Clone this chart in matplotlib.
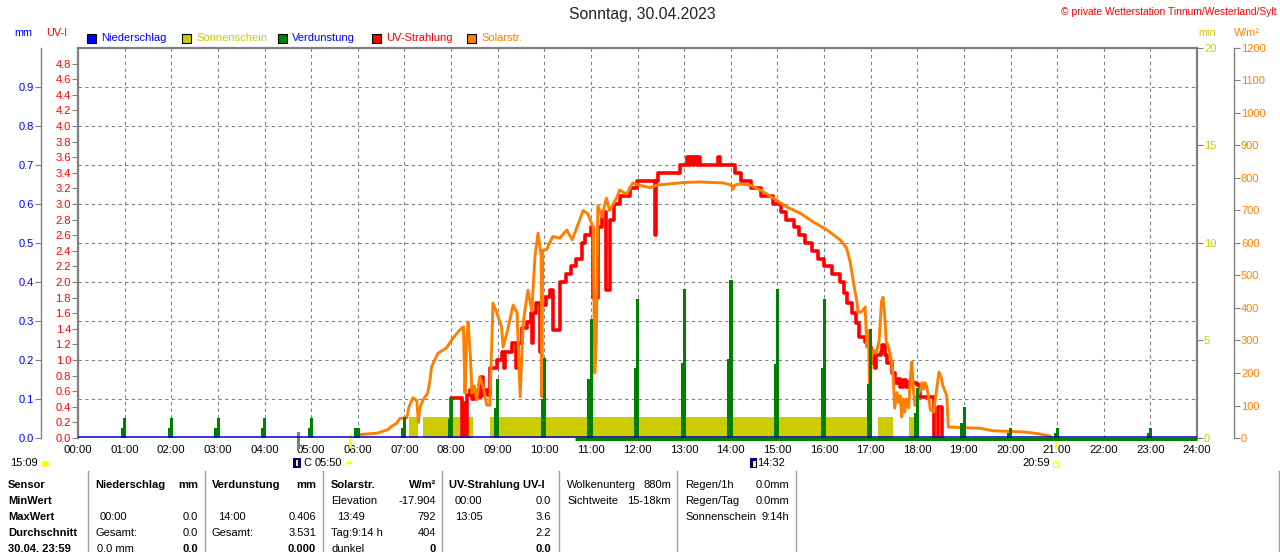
import matplotlib
matplotlib.use('Agg')
import matplotlib.pyplot as plt
from matplotlib.lines import Line2D
from matplotlib.patches import Rectangle, Circle, Ellipse

plt.rcParams['font.family'] = ['Liberation Sans', 'DejaVu Sans']

# ---------------- data ----------------
title = "Sonntag, 30.04.2023"
copyright_txt = "\u00a9 private Wetterstation Tinnum/Westerland/Sylt"

hour_labels = ["%02d:00" % h for h in range(25)]

# UV-Strahlung (UV-I), time in minutes since midnight
uv_t = [479, 480, 493, 494, 496, 497, 499, 500, 505, 507, 510, 513, 515, 517, 519, 521, 524, 527,
        530, 539, 546, 548, 550, 558, 564, 566, 572, 578, 583, 584, 586, 590, 594, 596, 602, 608,
        611, 619, 620, 628, 635, 641, 648, 652, 660, 663, 667, 669, 674, 679, 681, 684, 690, 697,
        710, 719, 742, 743, 744, 746, 775, 784, 786, 788, 791, 793, 796, 798, 800, 823, 824, 826,
        845, 853, 866, 879, 894, 905, 911, 922, 928, 936, 945, 952, 960, 970, 980, 986, 990, 996,
        1001, 1005, 1013, 1018, 1021, 1023, 1025, 1027, 1033, 1035, 1038, 1041, 1048, 1051, 1055,
        1058, 1062, 1066, 1070, 1075, 1080, 1083, 1100, 1102, 1106, 1107, 1111, 1112]
uv_v = [0.0, 0.51, 0.51, 0.0, 0.45, 0.0, 0.0, 0.55, 0.61, 0.5, 0.58, 0.52, 0.62, 0.52, 0.78, 0.55, 0.62, 0.55,
        0.9, 1.0, 1.1, 0.9, 1.1, 1.22, 0.9, 1.22, 1.41, 1.49, 1.6, 1.22, 1.6, 1.73, 1.1, 1.7, 1.81, 1.9,
        1.38, 1.38, 2.0, 2.1, 2.2, 2.3, 2.5, 2.6, 2.7, 1.8, 1.8, 2.7, 2.9, 1.9, 1.9, 2.8, 3.0, 3.1,
        3.2, 3.3, 3.3, 2.6, 3.3, 3.4, 3.5, 3.6, 3.5, 3.6, 3.5, 3.6, 3.5, 3.6, 3.5, 3.5, 3.6, 3.5,
        3.4, 3.3, 3.2, 3.1, 3.0, 2.9, 2.8, 2.7, 2.6, 2.5, 2.4, 2.3, 2.2, 2.1, 2.0, 1.86, 1.73, 1.6,
        1.47, 1.3, 1.23, 1.17, 0.96, 1.1, 0.9, 1.06, 1.1, 1.19, 1.06, 0.96, 0.83, 0.7, 0.75,
        0.65, 0.74, 0.66, 0.72, 0.7, 0.68, 0.53, 0.53, 0.0, 0.0, 0.4, 0.4, 0.0]

# Solarstrahlung (W/m2)
sol_t = [359, 360, 375, 385, 398, 405, 410, 414, 423, 426, 431, 436, 438, 440, 444, 450, 453, 455, 463,
         474, 481, 491, 496, 498, 500, 502, 505, 507, 510, 513, 517, 522, 526, 530, 534, 539, 545, 547,
         552, 560, 565, 569, 571, 573, 579, 584, 588, 592, 596, 597, 598, 603, 611, 620, 629, 636, 642,
         650, 656, 663, 665, 667, 669, 674, 680, 684, 693, 697, 706, 714, 723, 736, 745, 762, 779, 800,
         817, 830, 841, 843, 845, 852, 865, 878, 895, 912, 929, 946, 964, 981, 989, 994, 998, 1002,
         1004, 1009, 1013, 1015, 1017, 1019, 1021, 1024, 1027, 1031, 1034, 1036, 1038, 1040, 1043,
         1046, 1049, 1051, 1054, 1056, 1058, 1060, 1062, 1064, 1066, 1069, 1071, 1073, 1075, 1077,
         1080, 1084, 1086, 1088, 1090, 1092, 1095, 1097, 1101, 1105, 1108, 1111, 1113, 1118, 1120,
         1135, 1161, 1178, 1204, 1221, 1238, 1251, 1252]
sol_v = [0, 10, 13, 15, 25, 38, 45, 60, 62, 96, 124, 115, 48, 93, 117, 138, 178, 219, 260,
         277, 302, 332, 342, 138, 300, 357, 250, 138, 160, 117, 188, 150, 101, 101, 415, 385, 342, 280,
         323, 409, 385, 127, 250, 357, 455, 390, 557, 630, 560, 127, 578, 580, 620, 615, 640, 610, 648,
         700, 690, 648, 200, 300, 715, 680, 738, 700, 738, 763, 750, 785, 778, 770, 778, 782, 786, 788,
         786, 785, 778, 765, 778, 782, 778, 763, 738, 711, 692, 665, 640, 609, 585, 538, 477, 425,
         385, 390, 403, 280, 330, 117, 250, 270, 260, 300, 420, 433, 380, 300, 280,
         250, 188, 92, 140, 110, 130, 65, 120, 80, 120, 93, 180, 234, 150, 100,
         130, 148, 170, 150, 170, 160, 120, 86, 80, 150, 203, 185, 160, 130, 34,
         32, 30, 22, 20, 18, 12, 6, 0]

# Sonnenschein (min) periods: start / end in minutes, value
sun_start = [426, 444, 530, 1030, 1070]
sun_end = [437, 508, 1018, 1049, 1076]
sun_value = 1.08

# Verdunstung (mm) per hour: peak value and preceding lower value
verd_hours = list(range(24))
verd_hi = [0, 0.051, 0.051, 0.051, 0.051, 0.051, 0.026, 0.054, 0.105, 0.151, 0.205, 0.305,
           0.356, 0.382, 0.405, 0.382, 0.356, 0.279, 0.128, 0.079, 0.026, 0.026, 0, 0.026]
verd_lo = [0, 0.026, 0.026, 0.026, 0.026, 0.026, 0.026, 0.026, 0.05, 0.077, 0.1, 0.151,
           0.179, 0.192, 0.203, 0.19, 0.18, 0.138, 0.064, 0.038, 0.013, 0.013, 0, 0.013]
verd_line_start = 640

# Niederschlag (mm)
nied_t = [0, 1440]
nied_v = [0.0, 0.0]

# sun / moon events (minutes)
moon_tick = 283
sunrise = 350
sunset = 1259

# colours
C_BLUE = '#0000ff'
C_YEL = '#cccc00'
C_GREEN = '#008000'
C_RED = '#ff0000'
C_ORANGE = '#ff8000'
C_GRAY = '#808080'

# ---------------- figure ----------------
W, H = 1280, 552
fig = plt.figure(figsize=(12.8, 5.52), dpi=100)


def fx(x):
    return x / W


def fy(y):
    return 1 - y / H


L, R, T, B = 78, 1197, 48, 438
ax = fig.add_axes([fx(L), fy(B), (R - L) / W, (B - T) / H])
ax.set_xlim(0, 1440)
ax.set_ylim(0, 1)
ax.set_xticks(range(0, 1441, 60))
ax.set_xticklabels(hour_labels, fontsize=8.2)
ax.tick_params(axis='x', length=0, pad=5)
ax.set_yticks([i / 10 for i in range(11)])
ax.tick_params(axis='y', length=0, labelleft=False)
ax.grid(True, color=C_GRAY, linestyle=(0, (3, 3)), linewidth=0.8)
for s in ['left', 'top', 'right']:
    ax.spines[s].set_color(C_GRAY)
    ax.spines[s].set_linewidth(1.6)
ax.spines['bottom'].set_visible(False)


def clean(a):
    for s in a.spines.values():
        s.set_visible(False)
    a.set_xlim(0, 1440)


# Sonnenschein axis (min)
ax_sun = ax.twinx()
clean(ax_sun)
ax_sun.set_ylim(0, 20)
ax_sun.set_yticks([0, 5, 10, 15, 20])
ax_sun.tick_params(axis='y', colors=C_GRAY, labelcolor=C_YEL, length=4, pad=1, labelsize=8)
ax_sun.bar(sun_start, sun_value, width=[e - s for s, e in zip(sun_start, sun_end)],
           align='edge', color=C_YEL, linewidth=0)

# UV axis
ax_uv = ax.twinx()
clean(ax_uv)
ax_uv.set_ylim(0, 5)
ax_uv.yaxis.set_ticks_position('left')
ax_uv.yaxis.set_label_position('left')
uv_ticks = [i * 0.2 for i in range(25)]
ax_uv.set_yticks(uv_ticks)
ax_uv.set_yticklabels(["%.1f" % v for v in uv_ticks])
ax_uv.tick_params(axis='y', colors=C_GRAY, labelcolor=C_RED, length=4, pad=1, labelsize=8)
ax_uv.plot(uv_t, uv_v, drawstyle='steps-post', color=C_RED, lw=2.6)

# Solar axis (W/m2)
ax_w = ax.twinx()
clean(ax_w)
ax_w.spines['right'].set_visible(True)
ax_w.spines['right'].set_position(('outward', 37 * 0.72))
ax_w.spines['right'].set_color(C_GRAY)
ax_w.spines['right'].set_linewidth(1)
ax_w.set_ylim(0, 1200)
ax_w.set_yticks(range(0, 1201, 100))
ax_w.tick_params(axis='y', colors=C_GRAY, labelcolor=C_ORANGE, length=4, pad=1, labelsize=8)
ax_w.plot(sol_t, sol_v, color=C_ORANGE, lw=2.1)

# mm axis (Niederschlag / Verdunstung)
ax_mm = ax.twinx()
clean(ax_mm)
ax_mm.yaxis.set_ticks_position('left')
ax_mm.yaxis.set_label_position('left')
ax_mm.spines['left'].set_visible(True)
ax_mm.spines['left'].set_position(('outward', 37 * 0.72))
ax_mm.spines['left'].set_color(C_GRAY)
ax_mm.spines['left'].set_linewidth(1)
ax_mm.set_ylim(0, 1)
mm_ticks = [i / 10 for i in range(10)]
ax_mm.set_yticks(mm_ticks)
ax_mm.set_yticklabels(["%.1f" % v for v in mm_ticks])
ax_mm.tick_params(axis='y', colors=C_GRAY, labelcolor=C_BLUE, length=4, pad=1, labelsize=8)
hx = [h * 60 for h in verd_hours]
ax_mm.bar([x - 4.5 for x in hx], verd_lo, 6.5, align='edge', color=C_GREEN, linewidth=0)
ax_mm.bar([x + 0.3 for x in hx], verd_hi, 4.0, align='center', color=C_GREEN, linewidth=0)
ax_mm.plot([verd_line_start, 1440], [-0.002, -0.002], color=C_GREEN, lw=2.2, clip_on=False,
           solid_capstyle='butt')
ax_mm.plot(nied_t, [v + 0.002 for v in nied_v], color='#0000cc', lw=1.1, clip_on=False,
           solid_capstyle='butt')

# event ticks under the axis
tr = ax.get_xaxis_transform()
ax.add_line(Line2D([moon_tick] * 2, [0.012, -0.024], transform=tr, color=C_GRAY, lw=2.2, clip_on=False))
ax.add_line(Line2D([sunrise] * 2, [0.008, -0.024], transform=tr, color='#ffff00', lw=1.8, clip_on=False))
ax.add_line(Line2D([sunset] * 2, [0.003, -0.022], transform=tr, color='#ffff00', lw=1.8, clip_on=False))

# ---------------- texts ----------------
fig.text(fx(642), fy(15), title, ha='center', va='center', fontsize=11.3, color='#222222')
fig.text(fx(1277), fy(12), copyright_txt, ha='right', va='center', fontsize=7.4, color=C_RED)

fig.text(fx(14), fy(33), "mm", ha='left', va='center', fontsize=7.8, color=C_BLUE)
fig.text(fx(46), fy(33), "UV-I", ha='left', va='center', fontsize=7.8, color=C_RED)
fig.text(fx(1198), fy(33), "min", ha='left', va='center', fontsize=7.8, color=C_YEL)
fig.text(fx(1234), fy(33), "W/m\u00b2", ha='left', va='center', fontsize=7.8, color=C_ORANGE)

legend_items = [("Niederschlag", C_BLUE, C_BLUE, 87), ("Sonnenschein", C_YEL, C_YEL, 182),
                ("Verdunstung", C_GREEN, C_BLUE, 278), ("UV-Strahlung", C_RED, C_RED, 372),
                ("Solarstr.", C_ORANGE, C_ORANGE, 467)]
for name, fc, tc, x0 in legend_items:
    fig.add_artist(Rectangle((fx(x0), fy(43)), 9 / W, 9 / H, transform=fig.transFigure,
                             facecolor=fc, edgecolor='black', lw=0.8))
    fig.text(fx(x0 + 14), fy(38), name, ha='left', va='center', fontsize=8, color=tc)

# markers line below the axis
fig.text(fx(10), fy(463), "15:09", ha='left', va='center', fontsize=8)
fig.add_artist(Ellipse((fx(45), fy(464)), 8 / W, 6 / H, transform=fig.transFigure,
                       facecolor='#ffff00', edgecolor='none'))
fig.add_artist(Rectangle((fx(293), fy(468)), 8 / W, 10 / H, transform=fig.transFigure,
                         facecolor='#000080', edgecolor='none'))
fig.add_artist(Rectangle((fx(296), fy(466)), 2 / W, 6 / H, transform=fig.transFigure,
                         facecolor='#ffff00', edgecolor='none'))
fig.text(fx(303), fy(463), "C", ha='left', va='center', fontsize=8)
fig.text(fx(315), fy(463), "05:50", ha='left', va='center', fontsize=8)
fig.add_artist(Circle((fx(349), fy(463)), 3.5 / W, transform=fig.transFigure,
                      facecolor='#ffff00', edgecolor='none'))
fig.add_artist(Rectangle((fx(750), fy(468)), 7 / W, 10 / H, transform=fig.transFigure,
                         facecolor='#000080', edgecolor='none'))
fig.add_artist(Rectangle((fx(753), fy(467)), 2.5 / W, 6 / H, transform=fig.transFigure,
                         facecolor='#ffff00', edgecolor='none'))
fig.text(fx(757), fy(463), "14:32", ha='left', va='center', fontsize=8)
fig.text(fx(1022), fy(463), "20:59", ha='left', va='center', fontsize=8)
fig.add_artist(Rectangle((fx(1053), fy(467)), 5 / W, 5 / H, transform=fig.transFigure,
                         facecolor='none', edgecolor='#ffff00', lw=0.8))

# ---------------- table ----------------
for xs in [88, 205, 323, 442, 559, 677, 796, 1279]:
    fig.add_artist(Line2D([fx(xs)] * 2, [fy(471), fy(552)], transform=fig.transFigure,
                          color='#a0a0a0', lw=1))

rows_y = [485, 501, 517, 533, 549]
FS = 8


def t(x, row, s, ha='left', bold=False):
    fig.text(fx(x), fy(rows_y[row]), s, ha=ha, va='center', fontsize=FS,
             fontweight='bold' if bold else 'normal', color='black')


for i, s in enumerate(["Sensor", "MinWert", "MaxWert", "Durchschnitt", "30.04. 23:59"]):
    t(8, i, s, bold=True)

t(95, 0, "Niederschlag", bold=True); t(198, 0, "mm", 'right', True)
t(100, 2, "00:00"); t(198, 2, "0.0", 'right')
t(95, 3, "Gesamt:"); t(198, 3, "0.0", 'right')
t(97, 4, "0.0 mm"); t(198, 4, "0.0", 'right', True)

t(212, 0, "Verdunstung", bold=True); t(316, 0, "mm", 'right', True)
t(218, 2, "14:00"); t(316, 2, "0.406", 'right')
t(212, 3, "Gesamt:"); t(316, 3, "3.531", 'right')
t(316, 4, "0.000", 'right', True)

t(331, 0, "Solarstr.", bold=True); t(436, 0, "W/m\u00b2", 'right', True)
t(331, 1, "Elevation"); t(436, 1, "-17.904", 'right')
t(337, 2, "13:49"); t(436, 2, "792", 'right')
t(331, 3, "Tag:9:14 h"); t(436, 3, "404", 'right')
t(331, 4, "dunkel"); t(436, 4, "0", 'right', True)

t(449, 0, "UV-Strahlung UV-I", bold=True)
t(455, 1, "00:00"); t(551, 1, "0.0", 'right')
t(455, 2, "13:05"); t(551, 2, "3.6", 'right')
t(551, 3, "2.2", 'right')
t(551, 4, "0.0", 'right', True)

t(567, 0, "Wolkenunterg"); t(671, 0, "880m", 'right')
t(567, 1, "Sichtweite"); t(671, 1, "15-18km", 'right')

t(685, 0, "Regen/1h"); t(789, 0, "0.0mm", 'right')
t(685, 1, "Regen/Tag"); t(789, 1, "0.0mm", 'right')
t(685, 2, "Sonnenschein"); t(789, 2, "9:14h", 'right')

fig.savefig("out.png", dpi=100)
